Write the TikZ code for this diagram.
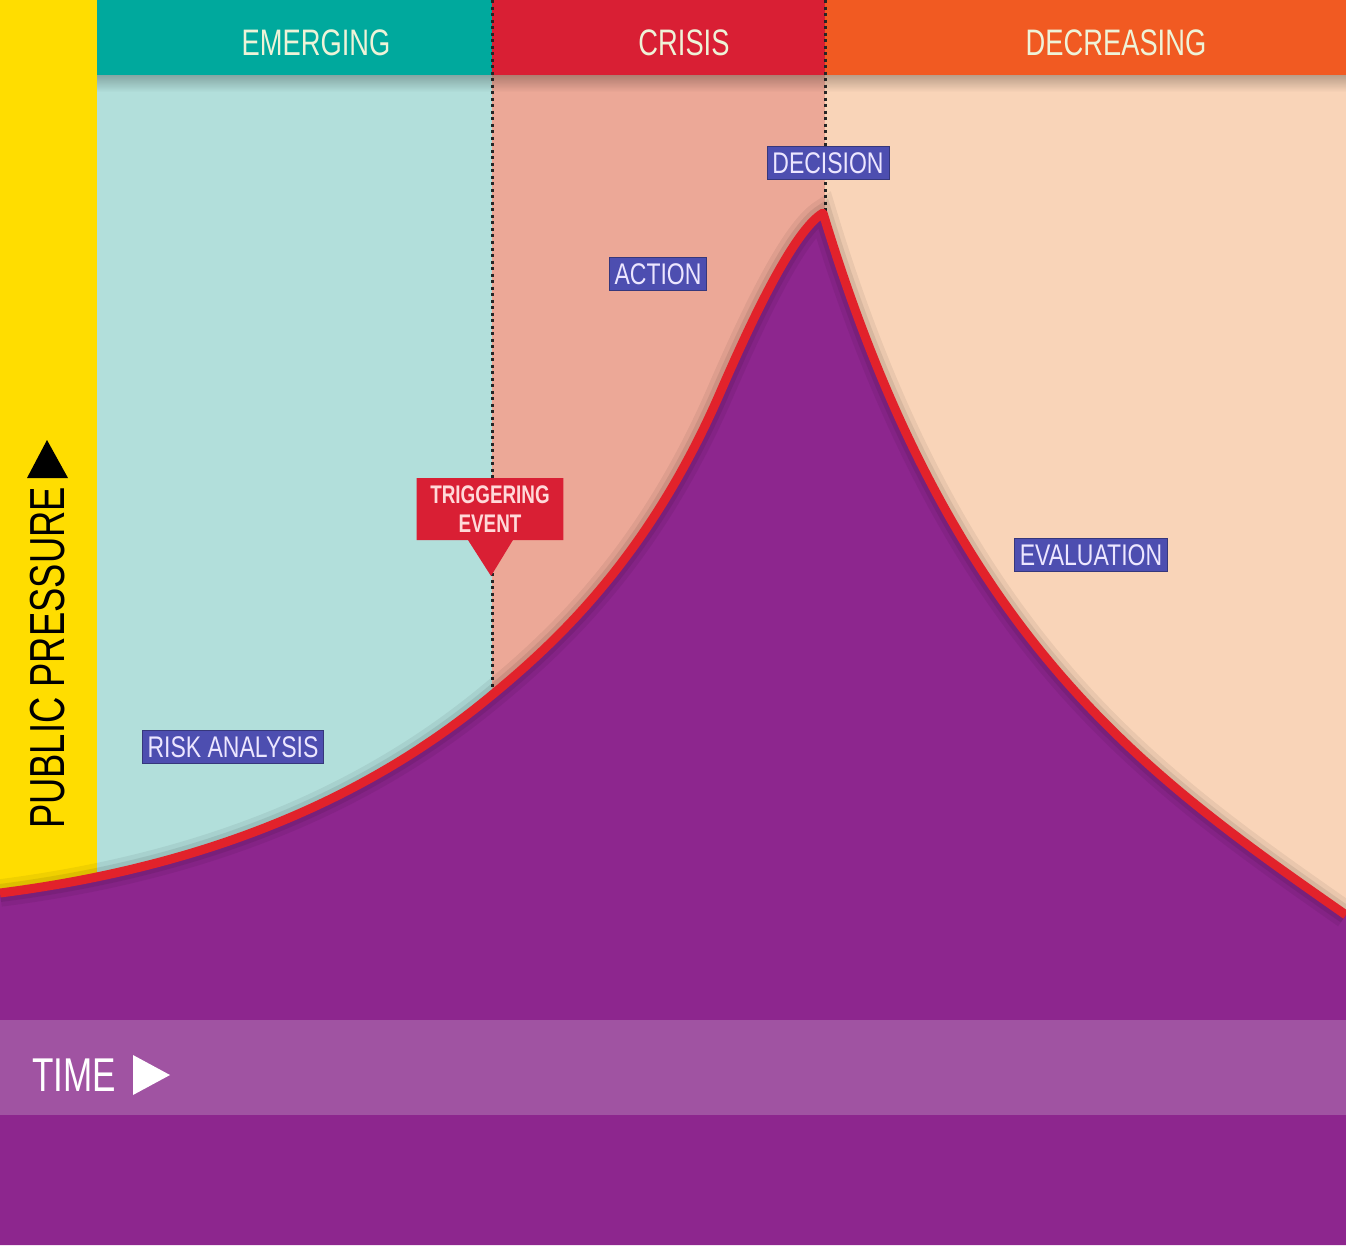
\documentclass[tikz,border=0pt]{standalone}
\usepackage{fontspec}
\setmainfont{Liberation Sans}
\newfontfamily\narrowfont[FakeStretch=0.74]{Liberation Sans}
\newfontfamily\tagfont[FakeStretch=0.77]{Liberation Sans}
\usetikzlibrary{shapes.callouts,fadings}

\definecolor{barYellow}{HTML}{FFDD00}
\definecolor{headTeal}{HTML}{00A99D}
\definecolor{headRed}{HTML}{D91F34}
\definecolor{headOrange}{HTML}{F15A22}
\definecolor{areaTeal}{HTML}{B2DFDB}
\definecolor{areaSalmon}{HTML}{ECA897}
\definecolor{areaPeach}{HTML}{F9D4B8}
\definecolor{hillPurple}{HTML}{8D268E}
\definecolor{bandPurple}{HTML}{A053A2}
\definecolor{curveRed}{HTML}{E2222B}
\definecolor{tagBlue}{HTML}{4D4EB0}
\definecolor{tagText}{HTML}{ECE6FF}
\definecolor{headText}{HTML}{EEF3D8}

% pressure curve, in pixel units
\newcommand{\hillcurve}{(0,893) .. controls (164,872) and (342,820) .. (492,695)
  .. controls (560,639) and (650,554) .. (720,393)
  .. controls (750,324) and (793,231) .. (823,213)
  .. controls (953,642) and (1146,775) .. (1346,915)}

\tikzset{
  headlabel/.style={text=headText, font=\narrowfont\fontsize{21}{24}\selectfont},
  steptag/.style={fill=tagBlue, draw=tagBlue!70!black, line width=0.4pt,
    text=tagText, inner xsep=3pt, inner ysep=3.5pt,
    font=\tagfont\fontsize{17}{20}\selectfont},
  phaseline/.style={line width=0.06cm, dotted, black!85},
}

\begin{document}
\begin{tikzpicture}[x=0.02cm,y=-0.02cm]
\useasboundingbox (0,0) rectangle (1346,1245);

% Drawing phase areas
\fill [barYellow] (0,0) rectangle (97,920);%
\fill [areaTeal] (97,75) rectangle (492,920);%
\fill [areaSalmon] (492,75) rectangle (825,920);%
\fill [areaPeach] (825,75) rectangle (1346,940);%

% Drawing header band
\fill [headTeal] (97,0) rectangle (492,75);%
\fill [headRed] (492,0) rectangle (825,75);%
\fill [headOrange] (825,0) rectangle (1346,75);%
\fill [black, opacity=0.25, path fading=south] (97,75) rectangle (1346,92);%
\node [headlabel] (emerging) at (316,43) {EMERGING};%
\node [headlabel] (crisis) at (684,43) {CRISIS};%
\node [headlabel] (decreasing) at (1116,43) {DECREASING};%

% Drawing phase borders
\coordinate (crisisTop) at (492,0);%
\coordinate (crisisFoot) at (492,700);%
\coordinate (peakTop) at (825,0);%
\coordinate (peakFoot) at (825,220);%
\draw [phaseline] (crisisTop) -- (crisisFoot);%
\draw [phaseline] (peakTop) -- (peakFoot);%

% Drawing pressure curve
\fill [hillPurple] \hillcurve -- (1346,1245) -- (0,1245) -- cycle;%
\draw [black, opacity=0.06, line width=0.55cm] \hillcurve;%
\draw [black, opacity=0.08, line width=0.36cm] \hillcurve;%
\draw [curveRed, line width=0.18cm, line join=round] \hillcurve;%

% Drawing time band
\fill [bandPurple] (0,1020) rectangle (1346,1115);%
\node [anchor=west, text=white, inner sep=0pt, font=\narrowfont\fontsize{27}{30}\selectfont] (time) at (32,1075) {TIME};%
\fill [white] (133,1055) -- (170,1075) -- (133,1095) -- cycle;%

% Drawing pressure axis
\node [rotate=90, text=black, inner sep=0pt, font=\narrowfont\fontsize{28}{32}\selectfont] (pressure) at (48,658) {PUBLIC PRESSURE};%
\fill [black] (47,440) -- (68,478) -- (27,478) -- cycle;%

% Drawing step tags
\node [steptag] (risk) at (233,747) {RISK ANALYSIS};%
\node [steptag] (action) at (658,274) {ACTION};%
\node [steptag] (decision) at (828,163) {DECISION};%
\node [steptag] (evaluation) at (1091,555) {EVALUATION};%

% Drawing triggering event
\node [rectangle callout, fill=headRed, callout absolute pointer={(491,576)},
  callout pointer width=0.9cm, minimum width=2.94cm, minimum height=1.24cm,
  inner sep=0pt, align=center, text=white!85!red,
  font=\narrowfont\bfseries\fontsize{14.5}{16.5}\selectfont] (trigger) at (490,509) {TRIGGERING\\EVENT};%
\end{tikzpicture}
\end{document}
